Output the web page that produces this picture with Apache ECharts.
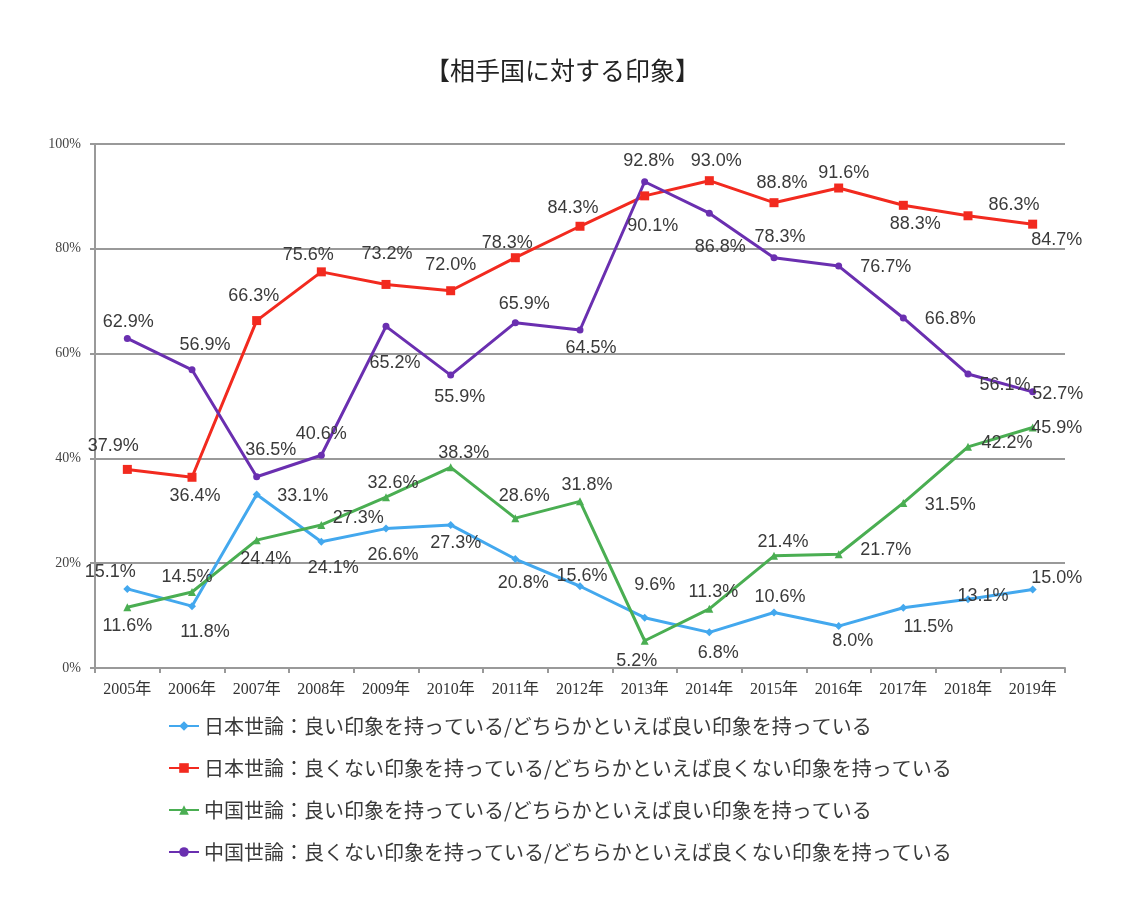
<!DOCTYPE html>
<html>
<head>
<meta charset="utf-8">
<script src="https://cdn.jsdelivr.net/npm/echarts@6/dist/echarts.min.js"></script>
<style>html,body{margin:0;padding:0;background:#fff;}#c{width:1125px;height:908px;}</style>
</head>
<body>
<div id="c"></div>
<script>
var categories = ['2005年','2006年','2007年','2008年','2009年','2010年','2011年','2012年','2013年','2014年','2015年','2016年','2017年','2018年','2019年'];
var yTickLabels = ['0%','20%','40%','60%','80%','100%'];
var seriesNames = [
  '日本世論：良い印象を持っている/どちらかといえば良い印象を持っている',
  '日本世論：良くない印象を持っている/どちらかといえば良くない印象を持っている',
  '中国世論：良い印象を持っている/どちらかといえば良い印象を持っている',
  '中国世論：良くない印象を持っている/どちらかといえば良くない印象を持っている'
];
var japanGood = [15.1,11.8,33.1,24.1,26.6,27.3,20.8,15.6,9.6,6.8,10.6,8.0,11.5,13.1,15.0];
var japanBad  = [37.9,36.4,66.3,75.6,73.2,72.0,78.3,84.3,90.1,93.0,88.8,91.6,88.3,86.3,84.7];
var chinaGood = [11.6,14.5,24.4,27.3,32.6,38.3,28.6,31.8,5.2,11.3,21.4,21.7,31.5,42.2,45.9];
var chinaBad  = [62.9,56.9,36.5,40.6,65.2,55.9,65.9,64.5,92.8,86.8,78.3,76.7,66.8,56.1,52.7];

// label offsets (style only)
var offJG = [[-17,-17],[13,26],[46,1],[12,26],[7,26],[5,18],[8,24],[2,-10],[10,-33],[9,21],[6,-15],[14,15],[25,19],[15,-3],[24,-11]];
var offJB = [[-14,-23],[3,19],[-3,-25],[-13,-17],[1,-30],[0,-26],[-8,-15],[-7,-18],[8,30],[7,-20],[8,-20],[5,-15],[12,19],[46,-11],[24,16]];
var offCG = [[0,19],[-5,-15],[9,19],[37,-7],[7,-14],[13,-14],[9,-22],[7,-16],[-8,20],[4,-17],[9,-14],[47,-4],[47,2],[39,-4],[24,1]];
var offCB = [[1,-16],[13,-25],[14,-27],[0,-21],[9,37],[9,22],[9,-19],[11,18],[4,-21],[11,34],[6,-21],[47,1],[47,1],[37,11],[25,2]];

var colors = ['#43A8EE','#F22A1F','#4AAE52','#6A2FB0'];
var symbols = ['diamond','rect','triangle','circle'];
var symSizes = [8,9,8,7];

function mk(name, vals, offs, color, sym, ss) {
  return {
    name: name, type: 'line', symbol: sym, symbolSize: ss,
    lineStyle: {color: color, width: 3},
    itemStyle: {color: color},
    data: vals.map(function(v, i){ return {value: v, label: {offset: offs[i]}}; }),
    label: {
      show: true, position: 'inside', color: '#3a3a3a',
      fontFamily: 'Liberation Sans, Arial, sans-serif', fontSize: 18,
      formatter: function(p){ return p.value.toFixed(1) + '%'; }
    },
    z: 3
  };
}

var chart = echarts.init(document.getElementById('c'));
chart.setOption({
  animation: false,
  backgroundColor: '#fff',
  title: {
    text: '【相手国に対する印象】', left: 'center', top: 53,
    textStyle: {fontFamily: 'Noto Sans CJK JP', fontWeight: 'normal', fontSize: 25, color: '#222'}
  },
  grid: {left: 95, right: 60, top: 144, bottom: 240},
  legend: {
    orient: 'vertical', left: 163, top: 711, itemWidth: 30, itemHeight: 12, itemGap: 22,
    textStyle: {fontFamily: 'Noto Sans CJK JP', fontSize: 20, color: '#3a3a3a'},
    data: seriesNames
  },
  xAxis: {
    type: 'category', data: categories, boundaryGap: true,
    axisLine: {lineStyle: {color: '#999', width: 2}},
    axisTick: {show: true, length: 5, lineStyle: {color: '#999', width: 2}},
    axisLabel: {fontFamily: 'Liberation Serif, Noto Sans CJK JP', fontSize: 16, color: '#333', margin: 14}
  },
  yAxis: {
    type: 'value', min: 0, max: 100, interval: 20,
    axisLine: {show: true, lineStyle: {color: '#999', width: 2}},
    axisTick: {show: true, length: 5, lineStyle: {color: '#999', width: 2}},
    splitLine: {lineStyle: {color: '#999', width: 2}},
    axisLabel: {fontFamily: 'Liberation Serif, serif', fontSize: 14, color: '#444', margin: 14,
      formatter: function(v){ return yTickLabels[v/20]; }}
  },
  series: [
    mk(seriesNames[0], japanGood, offJG, colors[0], symbols[0], symSizes[0]),
    mk(seriesNames[1], japanBad, offJB, colors[1], symbols[1], symSizes[1]),
    mk(seriesNames[2], chinaGood, offCG, colors[2], symbols[2], symSizes[2]),
    mk(seriesNames[3], chinaBad, offCB, colors[3], symbols[3], symSizes[3])
  ]
});
</script>
</body>
</html>
